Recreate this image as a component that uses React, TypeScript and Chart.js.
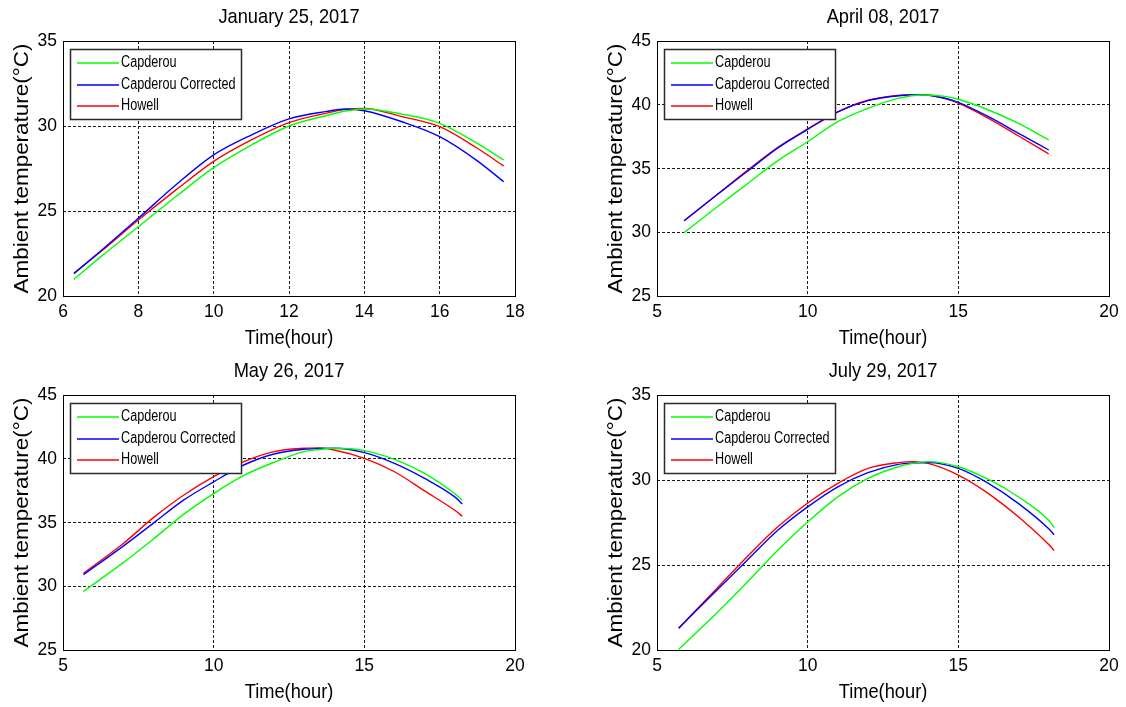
import React, { useEffect, useRef } from 'react';
import { Chart, registerables } from 'chart.js';

Chart.register(...registerables);

// ---- Series meta ----
const seriesLabels = ['Capderou', 'Capderou Corrected', 'Howell'];
const seriesColors = ['rgb(0,255,0)', 'rgb(0,0,255)', 'rgb(255,0,0)'];

// ---- January 25, 2017 ----
const janHours = [6.29, 7, 8, 9, 10, 11, 12, 13, 13.5, 14, 15, 16, 17, 17.7];
const janCapderou = [20.98, 22.3, 24.07, 25.85, 27.55, 28.88, 30.0, 30.62, 30.88, 31.0, 30.7, 30.16, 28.98, 28.0];
const janCorrected = [21.31, 22.65, 24.57, 26.54, 28.3, 29.47, 30.42, 30.86, 31.0, 30.9, 30.25, 29.37, 27.95, 26.72];
const janHowell = [21.35, 22.6, 24.47, 26.24, 27.92, 29.18, 30.2, 30.76, 30.98, 31.03, 30.55, 29.96, 28.69, 27.65];

// ---- April 08, 2017 ----
const aprHours = [5.9, 7, 8, 9, 10, 11, 12, 13, 13.8, 14.5, 15, 16, 17, 18];
const aprCapderou = [29.97, 32.0, 33.8, 35.6, 37.1, 38.67, 39.72, 40.5, 40.77, 40.68, 40.43, 39.59, 38.54, 37.24];
const aprCorrected = [30.9, 32.96, 34.78, 36.6, 38.07, 39.45, 40.32, 40.71, 40.79, 40.55, 40.18, 39.06, 37.76, 36.45];
const aprHowell = [30.9, 32.96, 34.85, 36.65, 38.1, 39.45, 40.35, 40.72, 40.79, 40.52, 40.12, 38.93, 37.55, 36.14];

// ---- May 26, 2017 ----
const mayHours = [5.68, 7, 8, 9, 10, 11, 12, 13, 13.5, 14, 15, 16, 17, 18, 18.25];
const mayCapderou = [29.6, 31.85, 33.7, 35.64, 37.27, 38.69, 39.72, 40.56, 40.72, 40.82, 40.64, 39.95, 38.85, 37.27, 36.75];
const mayCorrected = [30.91, 33.15, 34.95, 36.75, 38.19, 39.51, 40.37, 40.74, 40.8, 40.82, 40.48, 39.64, 38.46, 37.01, 36.45];
const mayHowell = [31.02, 33.35, 35.38, 37.14, 38.59, 39.77, 40.56, 40.82, 40.85, 40.69, 40.03, 38.98, 37.48, 35.96, 35.5];

// ---- July 29, 2017 ----
const julHours = [5.72, 7, 8, 9, 10, 11, 12, 13, 13.5, 14, 15, 16, 17, 18, 18.18];
const julCapderou = [20.04, 22.2, 24.0, 25.85, 27.53, 29.01, 30.09, 30.78, 30.98, 31.08, 30.78, 30.03, 29.0, 27.63, 27.2];
const julCorrected = [21.28, 23.55, 25.3, 27.03, 28.42, 29.6, 30.43, 30.92, 31.0, 31.02, 30.68, 29.8, 28.61, 27.13, 26.78];
const julHowell = [21.28, 23.65, 25.5, 27.23, 28.65, 29.8, 30.68, 31.02, 31.08, 30.98, 30.29, 29.2, 27.82, 26.2, 25.85];

const xAxisTitle = 'Time(hour)';
const yAxisTitle = 'Ambient temperature(°C)';

const FONT = '"Liberation Sans", Arial, Helvetica, sans-serif';

type PanelDef = {
  title: string;
  hours: number[];
  series: number[][];
  xMin: number; xMax: number; xStep: number;
  yMin: number; yMax: number; yStep: number;
  left: number; top: number;
};

const panels: PanelDef[] = [
  { title: 'January 25, 2017', hours: janHours, series: [janCapderou, janCorrected, janHowell], xMin: 6, xMax: 18, xStep: 2, yMin: 20, yMax: 35, yStep: 5, left: 0, top: 0 },
  { title: 'April 08, 2017', hours: aprHours, series: [aprCapderou, aprCorrected, aprHowell], xMin: 5, xMax: 20, xStep: 5, yMin: 25, yMax: 45, yStep: 5, left: 594, top: 0 },
  { title: 'May 26, 2017', hours: mayHours, series: [mayCapderou, mayCorrected, mayHowell], xMin: 5, xMax: 20, xStep: 5, yMin: 25, yMax: 45, yStep: 5, left: 0, top: 354 },
  { title: 'July 29, 2017', hours: julHours, series: [julCapderou, julCorrected, julHowell], xMin: 5, xMax: 20, xStep: 5, yMin: 20, yMax: 35, yStep: 5, left: 594, top: 354 },
];

function drawText(ctx: CanvasRenderingContext2D, text: string, x: number, y: number, size: number, sx: number, align: CanvasTextAlign, rotate = false) {
  ctx.save();
  ctx.translate(x, y);
  if (rotate) ctx.rotate(-Math.PI / 2);
  ctx.scale(sx, 1);
  ctx.font = `${size}px ${FONT}`;
  ctx.fillStyle = '#000';
  ctx.textAlign = align;
  ctx.textBaseline = 'middle';
  ctx.fillText(text, 0, 0);
  ctx.restore();
}

function makeDecor(title: string) {
  return {
    id: 'decor',
    afterDraw(chart: any) {
      const ctx: CanvasRenderingContext2D = chart.ctx;
      const a = chart.chartArea;
      const cx = (a.left + a.right) / 2;
      const cy = (a.top + a.bottom) / 2;

      // plot frame
      ctx.save();
      ctx.strokeStyle = '#000';
      ctx.lineWidth = 1;
      ctx.strokeRect(Math.round(a.left) + 0.5, Math.round(a.top) + 0.5, Math.round(a.right - a.left), Math.round(a.bottom - a.top));
      ctx.restore();

      // legend
      const lx = a.left + 7;
      const ly = a.top + 8;
      ctx.save();
      ctx.fillStyle = '#fff';
      ctx.fillRect(lx, ly, 171, 70);
      ctx.strokeStyle = '#2a2a2a';
      ctx.lineWidth = 1.5;
      ctx.strokeRect(lx + 0.5, ly + 0.5, 171, 70);
      const rows = [14, 36, 57];
      seriesLabels.forEach((lab, i) => {
        ctx.strokeStyle = seriesColors[i];
        ctx.lineWidth = 1.6;
        ctx.beginPath();
        ctx.moveTo(lx + 7, ly + rows[i]);
        ctx.lineTo(lx + 49, ly + rows[i]);
        ctx.stroke();
        drawText(ctx, lab, lx + 51, ly + rows[i], 16, 0.79, 'left');
      });
      ctx.restore();

      // tick labels
      const xs = chart.scales.x;
      const ys = chart.scales.y;
      xs.ticks.forEach((t: any) => {
        drawText(ctx, String(t.value), xs.getPixelForValue(t.value), a.bottom + 16, 19, 0.92, 'center');
      });
      ys.ticks.forEach((t: any) => {
        drawText(ctx, String(t.value), a.left - 6, ys.getPixelForValue(t.value), 19, 0.92, 'right');
      });

      // titles
      drawText(ctx, title, cx, a.top - 24, 21, 0.87, 'center');
      drawText(ctx, xAxisTitle, cx, a.bottom + 42, 21, 0.87, 'center');
      drawText(ctx, yAxisTitle, a.left - 41, cy, 21, 1.07, 'center', true);
    },
  };
}

function Panel({ p }: { p: PanelDef }) {
  const ref = useRef<HTMLCanvasElement>(null);
  useEffect(() => {
    if (!ref.current) return;
    const gridOpts = { color: '#1a1a1a', lineWidth: 1, drawTicks: false };
    const borderOpts = { display: false, dash: [3, 2] };
    const chart = new Chart(ref.current, {
      type: 'line',
      data: {
        datasets: p.series.map((vals, i) => ({
          label: seriesLabels[i],
          data: p.hours.map((h, j) => ({ x: h, y: vals[j] })),
          borderColor: seriesColors[i],
          backgroundColor: seriesColors[i],
          borderWidth: 1.4,
          pointRadius: 0,
          fill: false,
          cubicInterpolationMode: 'monotone' as const,
        })),
      },
      options: {
        responsive: false,
        animation: false,
        events: [],
        layout: { padding: { left: 0, right: 48, top: 41, bottom: 0 } },
        plugins: {
          legend: { display: false },
          title: { display: false },
          tooltip: { enabled: false },
        },
        scales: {
          x: {
            type: 'linear',
            min: p.xMin,
            max: p.xMax,
            ticks: { stepSize: p.xStep, display: false },
            grid: gridOpts,
            border: borderOpts,
            afterFit: (s: any) => { s.height = 58; },
          },
          y: {
            type: 'linear',
            min: p.yMin,
            max: p.yMax,
            ticks: { stepSize: p.yStep, display: false },
            grid: gridOpts,
            border: borderOpts,
            afterFit: (s: any) => { s.width = 63; },
          },
        },
      } as any,
      plugins: [makeDecor(p.title)],
    });
    return () => chart.destroy();
  }, [p]);
  return (
    <canvas
      ref={ref}
      width={563}
      height={354}
      style={{ position: 'absolute', left: p.left, top: p.top, width: 563, height: 354 }}
    />
  );
}

export default function App() {
  return (
    <div style={{ position: 'fixed', left: 0, top: 0, width: 1126, height: 707, overflow: 'hidden', background: '#fff' }}>
      {panels.map((p) => (
        <Panel key={p.title} p={p} />
      ))}
    </div>
  );
}
